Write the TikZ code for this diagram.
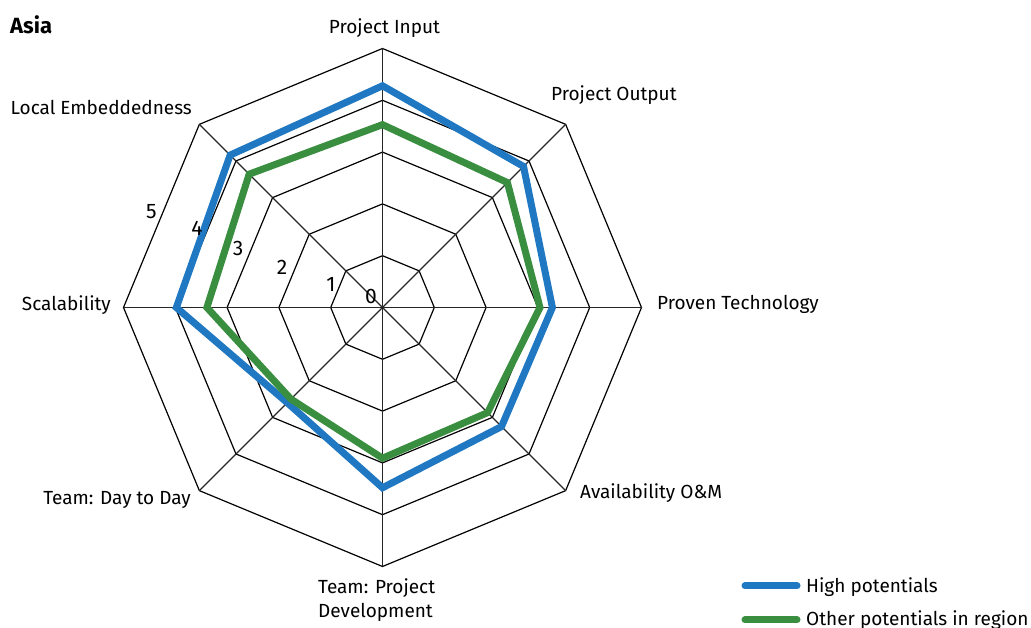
\documentclass[tikz,border=0pt]{standalone}
\usepackage{fontspec}
\setmainfont{Fira Sans}
\usetikzlibrary{calc}
\definecolor{highblue}{RGB}{31,120,193}
\definecolor{othergreen}{RGB}{58,142,63}
\tikzset{
  ring_/.style   = {draw=black, line width=1.2pt},
  spoke_/.style  = {draw=black!85, line width=1.3pt},
  high_/.style   = {draw=highblue, line width=7pt},
  other_/.style  = {draw=othergreen, line width=7pt},
  label_/.style  = {inner sep=0pt, font=\fontsize{19}{24}\selectfont},
  scale_/.style  = {inner sep=0pt, font=\fontsize{21}{22}\selectfont}
}

\begin{document}
\begin{tikzpicture}[x=1pt, y=1pt]
	\useasboundingbox (0,0) rectangle (1031,628);
	\coordinate (c) at (382.5,320.5);
	\begin{scope}[shift={(c)}, x=51.8pt, y=51.8pt]
		% rings and spokes
		\foreach \r in {1,...,5}
			\draw[ring_] (0:\r) -- (45:\r) -- (90:\r) -- (135:\r) -- (180:\r)
				-- (225:\r) -- (270:\r) -- (315:\r) -- cycle;
		\foreach \a in {0,45,...,315}
			\draw[spoke_] (0,0) -- (\a:5);
		% data
		\draw[high_] (90:4.28) -- (45:3.85) -- (0:3.28) -- (-45:3.25)
			-- (-90:3.48) -- (-135:2.6) -- (180:3.98) -- (135:4.16) -- cycle;
		\draw[other_] (90:3.53) -- (45:3.41) -- (0:3.04) -- (-45:2.87)
			-- (-90:2.91) -- (-135:2.5) -- (180:3.39) -- (135:3.64) -- cycle;
	\end{scope}

	\node[anchor=base west, inner sep=0pt, font=\fontsize{22}{24}\selectfont\bfseries] (asia) at (10,594) {Asia};

	\node[label_, anchor=base] (input) at (384.5,594) {Project Input};
	\node[label_, anchor=base west] (output) at (551,527) {Project Output};
	\node[label_, anchor=base west] (proven) at (657,318) {Proven Technology};
	\node[label_, anchor=base west] (avail) at (580,129) {Availability O\&M};
	\node[label_, anchor=base west, align=left] (teampd) at (318,10) {Team: Project\\Development};
	\node[label_, anchor=base east] (daytoday) at (191,123) {Team: Day to Day};
	\node[label_, anchor=base east] (scal) at (111,317) {Scalability};
	\node[label_, anchor=base east] (local) at (192,513) {Local Embeddedness};

	\foreach \k/\x/\y in {0/371/331, 1/331/344, 2/282/361, 3/238/379, 4/197/400, 5/151.5/416}
		\node[scale_] (s\k) at (\x,\y) {\k};

	% legend
	\coordinate (hA) at (745,42);
	\coordinate (hB) at (797,42);
	\coordinate (oA) at (745,8);
	\coordinate (oB) at (797,8);
	\draw[high_, line cap=round] (hA) -- (hB);
	\draw[other_, line cap=round] (oA) -- (oB);
	\node[label_, anchor=base west] (hlab) at (806,35) {High potentials};
	\node[label_, anchor=base west] (olab) at (806,2) {Other potentials in region};
\end{tikzpicture}
\end{document}
